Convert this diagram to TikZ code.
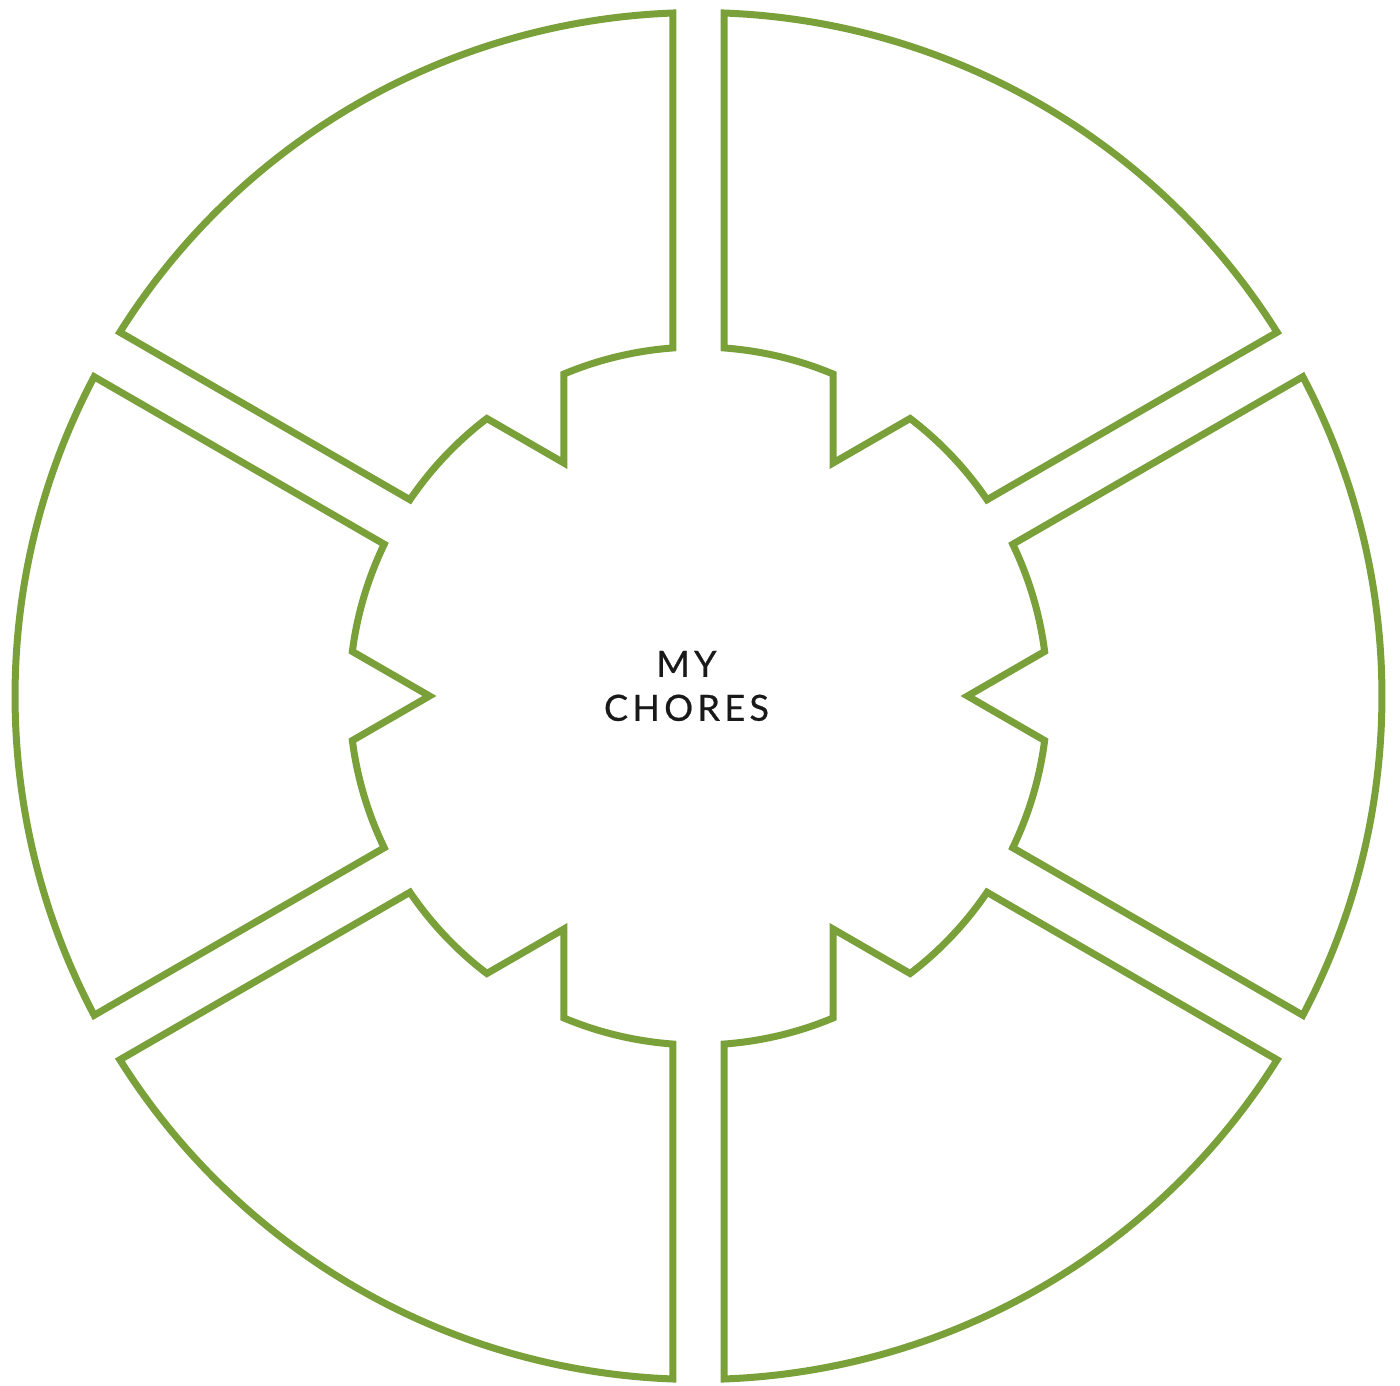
\documentclass[tikz,border=0pt]{standalone}
\usepackage{fontspec}
\setmainfont{Lato}
\definecolor{chgreen}{RGB}{122,160,58}
\definecolor{chtext}{RGB}{25,25,25}
\begin{document}
\begin{tikzpicture}[x=1pt,y=1pt,
  seg/.style={draw=chgreen, line width=7pt, line join=miter}]
\useasboundingbox (-698.5,-689) rectangle (701.5,696);
\foreach \c in {0,60,120,180,240,300}{
  \begin{scope}[rotate=\c]
  \draw[seg] (-27.845:683.5) arc[start angle=-27.845, end angle=27.845, radius=683.5]
     -- (25.777:349) arc[start angle=25.777, end angle=7.33, radius=349]
     -- (269,0) -- (-7.33:349) arc[start angle=-7.33, end angle=-25.777, radius=349]
     -- cycle;
  \end{scope}
}
\node[align=center, font=\fontsize{36}{44}\selectfont\addfontfeatures{LetterSpace=12,FakeBold=0.6}, text=chtext] (title) at (-12,10) {MY\\CHORES};
\end{tikzpicture}
\end{document}
